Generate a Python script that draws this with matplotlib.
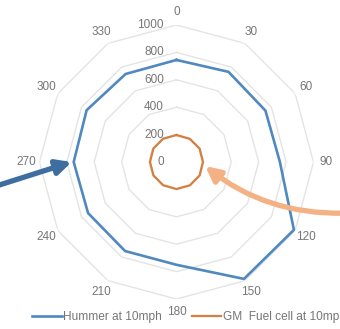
import numpy as np
import matplotlib.pyplot as plt

headings = [0, 30, 60, 90, 120, 150, 180, 210, 240, 270, 300, 330]
hummer = [745, 760, 750, 755, 990, 985, 750, 750, 745, 750, 757, 742]
fuel_cell = [197, 195, 195, 193, 195, 196, 197, 195, 194, 193, 195, 196]
rings = [200, 400, 600, 800, 1000]
ring_labels = ["0", "200", "400", "600", "800", "1000"]
series_names = ["Hummer at 10mph", "GM  Fuel cell at 10mph"]

BLUE = "#5088c0"
ORANGE = "#d47f40"
GRID = "#e4e4e4"
TEXT = "#767676"

plt.rcParams['font.family'] = ['Liberation Sans', 'DejaVu Sans']


def closed(vals):
    return list(vals) + [vals[0]]


def main():
    fig = plt.figure(figsize=(3.4, 3.29), dpi=100)
    ax = fig.add_axes([0.116, 0.091, 0.806, 0.833], projection='polar')
    ax.set_theta_zero_location('N')
    ax.set_theta_direction(-1)
    ax.set_ylim(0, 1000)
    ax.grid(False)
    ax.set_xticks([])
    ax.set_yticks([])
    ax.spines['polar'].set_visible(False)

    theta = np.deg2rad(headings)
    th = closed(theta)

    # polygon gridlines like excel
    for r in rings:
        ax.plot(th, [r] * len(th), color=GRID, lw=1, zorder=1)

    l1, = ax.plot(th, closed(hummer), color=BLUE, lw=1.9, zorder=3)
    l2, = ax.plot(th, closed(fuel_cell), color=ORANGE, lw=1.6, zorder=3)

    for h, t in zip(headings, theta):
        ax.text(t, 1095, str(h), ha='center', va='center', fontsize=8.5,
                color=TEXT, clip_on=False)

    for i, lab in enumerate(ring_labels):
        ax.annotate(lab, xy=(0, i * 200), xytext=(-9, 0), textcoords='offset points',
                    ha='right', va='center', fontsize=8.5, color=TEXT)

    # callout arrows
    ax.annotate("", xy=(np.deg2rad(270), 765), xycoords='data',
                xytext=(-0.01, 0.435), textcoords='figure fraction',
                arrowprops=dict(arrowstyle='-|>', lw=3.8, color="#3d6e9f",
                                mutation_scale=22, shrinkA=0, shrinkB=0))
    ax.annotate("", xy=(np.deg2rad(98), 212), xycoords='data',
                xytext=(1.01, 0.352), textcoords='figure fraction',
                arrowprops=dict(arrowstyle='-|>', lw=3.8, color="#f4b183",
                                mutation_scale=22, shrinkA=0, shrinkB=0,
                                connectionstyle='arc3,rad=-0.18'))

    fig.legend([l1, l2], series_names, loc='center left',
               bbox_to_anchor=(0.094, 0.035), ncol=2, frameon=False,
               fontsize=8.6, handlelength=2.5, handletextpad=0.1,
               columnspacing=2.5, borderaxespad=0, borderpad=0,
               labelcolor=TEXT)

    fig.savefig("out.png", dpi=100)


if __name__ == "__main__":
    main()
